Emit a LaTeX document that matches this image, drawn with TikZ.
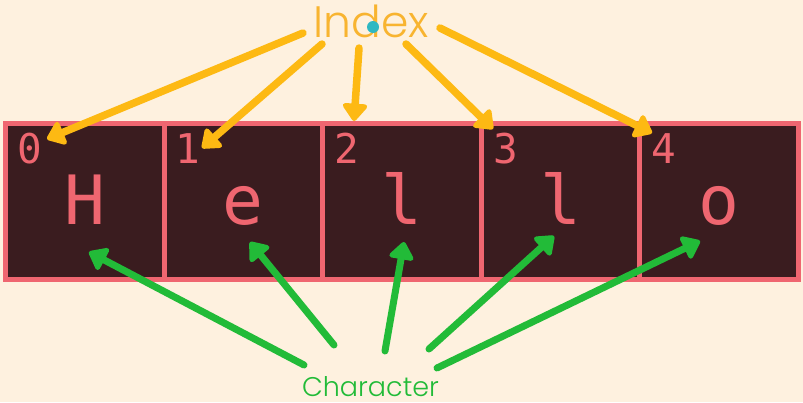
\documentclass[tikz,border=0pt]{standalone}
\usepackage{fontspec}
\usetikzlibrary{arrows.meta}
\newfontfamily\popfont{Poppins Light}
\newfontfamily\monofont{DejaVu Sans Mono}
\definecolor{bgcream}{HTML}{FEF1DF}
\definecolor{cellfill}{HTML}{3A1C1F}
\definecolor{cellline}{HTML}{EF6670}
\definecolor{idxorange}{HTML}{FDB913}
\definecolor{idxtext}{HTML}{F8B430}
\definecolor{chargreen}{HTML}{22BB38}
\definecolor{dotcyan}{HTML}{2FB8C2}
\tikzset{
  cellbox/.style={draw=cellline, fill=cellfill, line width=5pt, minimum width=158.6pt, minimum height=156pt, inner sep=0pt, outer sep=0pt, anchor=north west},
  bigchar/.style={text=cellline, font=\monofont\fontsize{68}{68}\selectfont, anchor=base, inner sep=0pt},
  digit/.style={text=cellline, font=\monofont\fontsize{41}{41}\selectfont, anchor=base west, inner sep=0pt},
  idxarrow/.style={draw=idxorange, line width=7.5pt, line cap=round, -{Triangle[length=19pt,width=28pt,round]}},
  chararrow/.style={draw=chargreen, line width=7pt, line cap=round, -{Triangle[length=19pt,width=28pt,round]}},
}
\begin{document}
\begin{tikzpicture}[x=1pt,y=-1pt]
\fill[bgcream] (0,0) rectangle (803,402);
\useasboundingbox (0,0) rectangle (803,402);
% cells
\foreach \i/\ch in {0/H,1/e,2/l,3/l,4/o}{
  \node[cellbox] (c\i) at ({5.5+158.6*\i},123.5) {};
  \node[digit] (d\i) at ({17+158.6*\i},163) {\i};
  \node[bigchar] (h\i) at ({5.5+158.6*\i+79.3},224) {\ch};
}
% labels
\node[text=idxtext, font=\popfont\fontsize{44}{44}\selectfont, anchor=base, inner sep=0pt] (idx) at (371,37) {Index};
\fill[dotcyan] (373,27) circle (6);
\node[text=chargreen, font=\popfont\fontsize{27}{27}\selectfont, anchor=base, inner sep=0pt, text depth=0pt] (chr) at (370.5,396.5) {Character};
% orange arrow ends
\coordinate (ot1) at (303,33); \coordinate (oh1) at (47,139);
\coordinate (ot2) at (322,44); \coordinate (oh2) at (202,148);
\coordinate (ot3) at (359,48); \coordinate (oh3) at (354,121);
\coordinate (ot4) at (406,44); \coordinate (oh4) at (493,129);
\coordinate (ot5) at (440,28); \coordinate (oh5) at (652,133);
\foreach \k in {1,...,5}{\draw[idxarrow] (ot\k) -- (oh\k);}
% green arrow ends
\coordinate (gt1) at (304,365); \coordinate (gh1) at (89,252);
\coordinate (gt2) at (334,345); \coordinate (gh2) at (250,242);
\coordinate (gt3) at (385,351); \coordinate (gh3) at (404,242);
\coordinate (gt4) at (429,349); \coordinate (gh4) at (554,236);
\coordinate (gt5) at (437,368); \coordinate (gh5) at (700,241);
\foreach \k in {1,...,5}{\draw[chararrow] (gt\k) -- (gh\k);}
\end{tikzpicture}
\end{document}
